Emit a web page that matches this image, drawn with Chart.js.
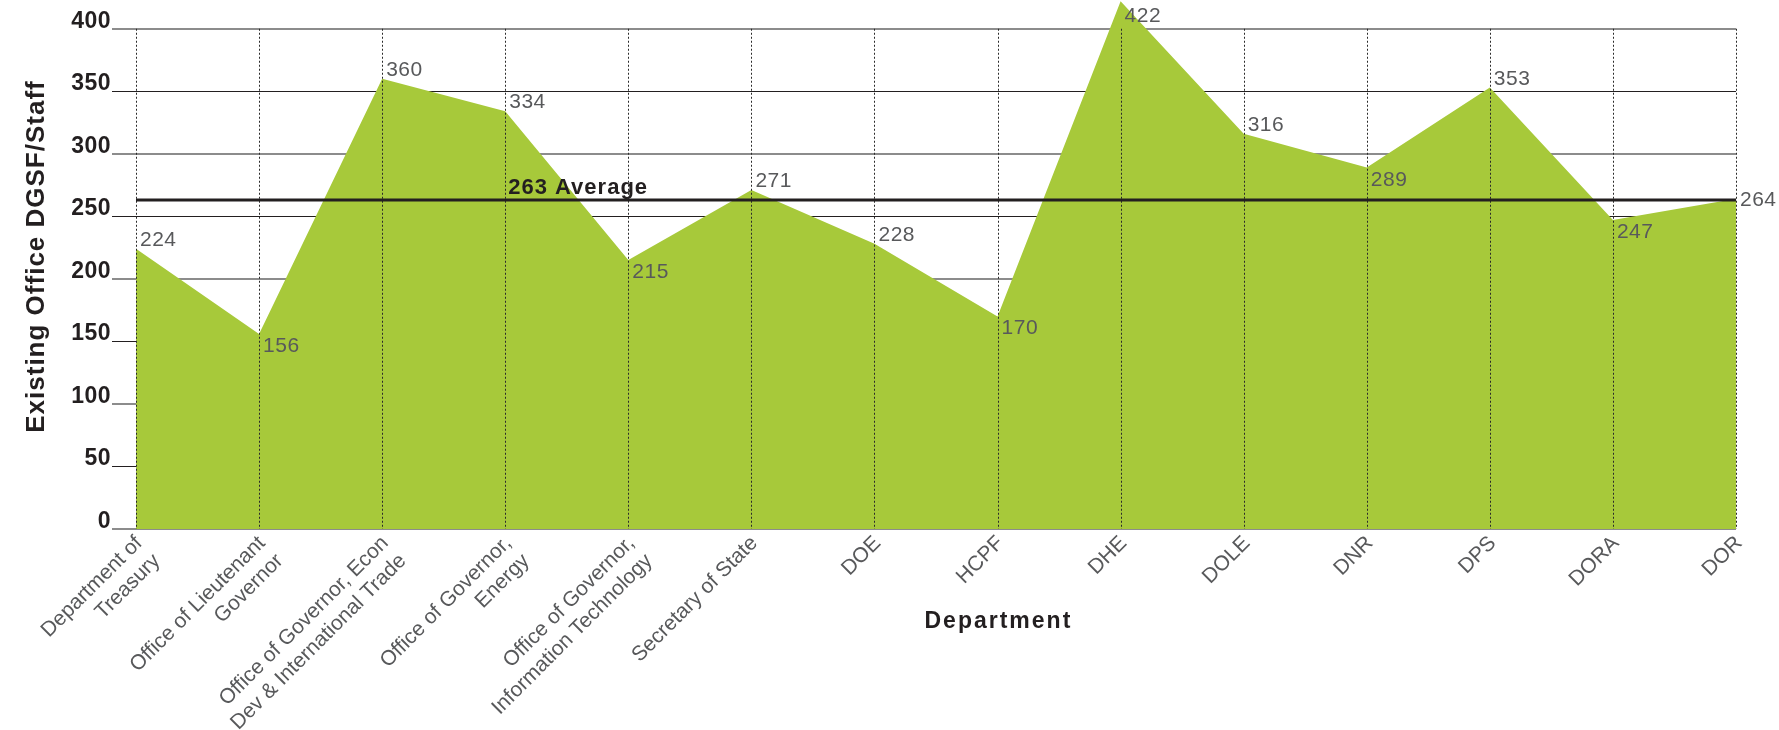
<!DOCTYPE html>
<html>
<head>
<meta charset="utf-8">
<script src="https://cdn.jsdelivr.net/npm/chart.js@4.4.1/dist/chart.umd.min.js"></script>
<style>
  html, body { margin: 0; padding: 0; background: #ffffff; }
  #wrap { width: 1779px; height: 730px; position: relative; }
  canvas { display: block; }
</style>
</head>
<body>
<div id="wrap"><canvas id="c" width="1779" height="730"></canvas></div>
<script>
// ---- data ----
const categories = [
  ["Department of", "Treasury"],
  ["Office of Lieutenant", "Governor"],
  ["Office of Governor, Econ", "Dev & International Trade"],
  ["Office of Governor,", "Energy"],
  ["Office of Governor,", "Information Technology"],
  "Secretary of State",
  "DOE",
  "HCPF",
  "DHE",
  "DOLE",
  "DNR",
  "DPS",
  "DORA",
  "DOR"
];
const dgsfPerStaff = [224, 156, 360, 334, 215, 271, 228, 170, 422, 316, 289, 353, 247, 264];
const averageValue = 263;
const averageLabel = "263 Average";
const yTickValues = [0, 50, 100, 150, 200, 250, 300, 350, 400];
const xTitle = "Department";
const yTitle = "Existing Office DGSF/Staff";

// ---- styles ----
const FONT = '"Liberation Sans", Arial, Helvetica, sans-serif';
const GREEN = '#a7c93a';
const DARK = '#231f20';
const GRAY_LINE = '#8c8c8c';
const LABEL_GRAY = '#58595b';

const overlay = {
  id: 'overlay',
  afterDatasetsDraw(chart) {
    const { ctx, chartArea, scales } = chart;
    const x = scales.x, y = scales.y;
    // vertical dotted lines on top of the area
    const top = y.getPixelForValue(yTickValues[yTickValues.length - 1]);
    ctx.save();
    ctx.strokeStyle = '#2a2a2a';
    ctx.lineWidth = 1;
    ctx.setLineDash([2, 2]);
    categories.forEach((c, i) => {
      const px = Math.round(x.getPixelForValue(i)) + 0.5;
      ctx.beginPath();
      ctx.moveTo(px, top);
      ctx.lineTo(px, chartArea.bottom);
      ctx.stroke();
    });
    ctx.restore();

    // average line + label
    const ay = y.getPixelForValue(averageValue);
    ctx.save();
    ctx.strokeStyle = DARK;
    ctx.lineWidth = 3;
    ctx.beginPath();
    ctx.moveTo(chartArea.left, ay);
    ctx.lineTo(chartArea.right, ay);
    ctx.stroke();
    ctx.font = 'bold 22px ' + FONT;
    ctx.letterSpacing = '1px';
    ctx.fillStyle = DARK;
    ctx.textAlign = 'left';
    ctx.textBaseline = 'alphabetic';
    ctx.fillText(averageLabel, x.getPixelForValue(3) + 3, ay - 6);
    ctx.restore();

    // data labels
    const meta = chart.getDatasetMeta(0);
    const size = 21;
    const cap = size * 0.716;
    ctx.save();
    ctx.font = size + 'px ' + FONT;
    ctx.letterSpacing = '0.5px';
    ctx.fillStyle = LABEL_GRAY;
    ctx.textAlign = 'left';
    ctx.textBaseline = 'alphabetic';
    meta.data.forEach((pt, i) => {
      const v = dgsfPerStaff[i];
      const prev = dgsfPerStaff[i - 1], next = dgsfPerStaff[i + 1];
      const isMin = (prev === undefined || v < prev) && (next === undefined || v < next);
      let base;
      if (isMin) base = pt.y + 3 + cap;
      else if (i === dgsfPerStaff.length - 1) base = pt.y + cap / 2;
      else base = pt.y - 3;
      base = Math.max(base, cap + 7);
      ctx.fillText(String(v), pt.x + 4, base);
    });
    ctx.restore();
  },
  afterDraw(chart) {
    const { ctx, chartArea, scales } = chart;
    const y = scales.y;
    // y tick labels sitting on their grid lines
    ctx.save();
    ctx.font = 'bold 23px ' + FONT;
    ctx.letterSpacing = '0.5px';
    ctx.fillStyle = DARK;
    ctx.textAlign = 'right';
    ctx.textBaseline = 'alphabetic';
    yTickValues.forEach(v => {
      ctx.fillText(String(v), chartArea.left - 25, y.getPixelForValue(v) - 1);
    });
    ctx.restore();

    // y title
    ctx.save();
    ctx.font = 'bold 26px ' + FONT;
    ctx.letterSpacing = '1px';
    ctx.fillStyle = DARK;
    ctx.textAlign = 'center';
    ctx.textBaseline = 'middle';
    ctx.translate(37, (chartArea.top + chartArea.bottom) / 2 - 8);
    ctx.rotate(-Math.PI / 2);
    ctx.fillText(yTitle, 0, 0);
    ctx.restore();

    // x title
    ctx.save();
    ctx.font = 'bold 23px ' + FONT;
    ctx.letterSpacing = '2px';
    ctx.fillStyle = DARK;
    ctx.textAlign = 'center';
    ctx.textBaseline = 'middle';
    ctx.fillText(xTitle, chartArea.left + chartArea.width * 0.539, 622);
    ctx.restore();
  }
};

new Chart(document.getElementById('c'), {
  type: 'line',
  data: {
    labels: categories,
    datasets: [{
      data: dgsfPerStaff,
      fill: 'origin',
      backgroundColor: GREEN,
      borderColor: GREEN,
      borderWidth: 0,
      pointRadius: 0,
      pointHoverRadius: 0,
      tension: 0
    }]
  },
  options: {
    responsive: false,
    animation: false,
    devicePixelRatio: 1,
    layout: { padding: { top: 0, right: 43, bottom: 0, left: 0 } },
    plugins: { legend: { display: false }, tooltip: { enabled: false } },
    scales: {
      x: {
        offset: false,
        grid: { display: false },
        border: { display: false },
        ticks: {
          autoSkip: false,
          maxRotation: 45,
          minRotation: 45,
          color: LABEL_GRAY,
          font: { family: FONT, size: 21 },
          padding: -6,
          labelOffset: 3
        },
        afterFit: (s) => { s.height = 201; }
      },
      y: {
        min: 0,
        max: 423,
        afterBuildTicks: (s) => { s.ticks = yTickValues.map(v => ({ value: v })); },
        grid: {
          color: (c) => (c.tick && c.tick.value % 100 === 0) ? GRAY_LINE : DARK,
          lineWidth: (c) => (c.tick && c.tick.value % 100 === 0) ? 2 : 1,
          drawTicks: true,
          tickLength: 24
        },
        border: { display: false },
        ticks: { display: false },
        afterFit: (s) => { s.width = 136; s.paddingTop = 0; s.paddingBottom = 0; }
      }
    }
  },
  plugins: [overlay]
});
</script>
</body>
</html>
